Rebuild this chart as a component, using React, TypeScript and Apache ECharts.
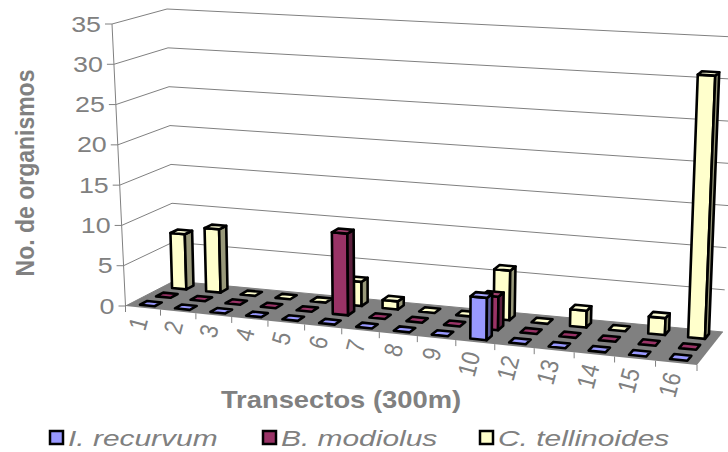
import React, { useEffect, useRef } from "react";
import * as echarts from "echarts";

// Transects along the shore (transect 11 has no sample)
const categories = ["1", "2", "3", "4", "5", "6", "7", "8", "9", "10", "12", "13", "14", "15", "16"];
const seriesNames = ["I. recurvum", "B. modiolus", "C. tellinoides"];
const recurvum = [0, 0, 0, 0, 0, 0, 0, 0, 0, 5, 0, 0, 0, 0, 0];
const modiolus = [0, 0, 0, 0, 0, 10, 0, 0, 0, 4, 0, 0, 0, 0, 0];
const tellinoides = [7, 8, 0, 0, 0, 3, 1, 0, 0, 6, 0, 2, 0, 2, 31];
const yTicks = [0, 5, 10, 15, 20, 25, 30, 35];

const seriesValues = [recurvum, modiolus, tellinoides];
const frontColors = ["#9999FF", "#993366", "#FFFFCC"];
const sideColors = ["#5C5C99", "#5C1F3D", "#99997A"];
const topColors = ["#A6A6FF", "#A3416F", "#FFFFD6"];

const TEXT = "#808080";
const GRID = "#808080";
const FONT = '"Liberation Sans", Arial, Helvetica, sans-serif';

type Pt = [number, number];

// Screen corners of the 3D plot box: floor (value 0) and roof (value max)
const FLOOR_FL: Pt = [125.5, 306];
const FLOOR_FR: Pt = [697, 365];
const FLOOR_BL: Pt = [174, 281];
const FLOOR_BR: Pt = [723, 332];
const TOP_FL: Pt = [112, 24];
const TOP_FR: Pt = [709, 59];
const TOP_BL: Pt = [167, 9];
const TOP_BR: Pt = [735, 37];
// Perspective foreshortening along the category direction
const WARP = -0.087;

// Depth rows (front to back) and box proportions
const ROW_DEPTH = [1 / 6, 1 / 2, 5 / 6];
const BAR_DEPTH = 0.15;
const BAR_WIDTH = 0.42;

const lerp = (a: Pt, b: Pt, t: number): Pt => [a[0] + (b[0] - a[0]) * t, a[1] + (b[1] - a[1]) * t];

// u: along categories (0..1), v: depth (0 front .. 1 back), h: height (0..1)
function project(u: number, v: number, h: number): Pt {
  const w = (u * (1 + WARP)) / (1 + WARP * u);
  const f = lerp(lerp(FLOOR_FL, FLOOR_FR, w), lerp(FLOOR_BL, FLOOR_BR, w), v);
  const t = lerp(lerp(TOP_FL, TOP_FR, w), lerp(TOP_BL, TOP_BR, w), v);
  return lerp(f, t, h);
}

// Convert a data point to normalised plot coordinates using the hidden cartesian axes
function norm(params: any, api: any, x: number, y: number) {
  const cs = params.coordSys;
  const p = api.coord([x, y]);
  return {
    u: (p[0] - cs.x) / cs.width,
    h: (cs.y + cs.height - p[1]) / cs.height,
    band: api.size([1, 0])[0] / cs.width,
  };
}

function barRenderer(row: number) {
  return (params: any, api: any) => {
    const { u, h, band } = norm(params, api, api.value(0), api.value(1));
    const du = (band * BAR_WIDTH) / 2;
    const vc = ROW_DEPTH[row];
    const dv = BAR_DEPTH / 2;
    const u0 = u - du, u1 = u + du, v0 = vc - dv, v1 = vc + dv;
    const a = project(u0, v0, 0);
    const b = project(u1, v0, 0);
    const c = project(u1, v0, h);
    const d = project(u0, v0, h);
    const e = project(u1, v1, 0);
    const f = project(u1, v1, h);
    const g = project(u0, v1, h);
    const edge = { stroke: "#000000", lineWidth: 2.6, lineJoin: "round" };
    const children: any[] = [];
    if (h > 0) {
      children.push({ type: "polygon", shape: { points: [a, b, c, d] }, style: { fill: frontColors[row], ...edge } });
      children.push({ type: "polygon", shape: { points: [b, e, f, c] }, style: { fill: sideColors[row], ...edge } });
      children.push({ type: "polygon", shape: { points: [d, c, f, g] }, style: { fill: topColors[row], ...edge } });
    } else {
      children.push({ type: "polygon", shape: { points: [d, c, f, g] }, style: { fill: frontColors[row], ...edge } });
    }
    return { type: "group", children };
  };
}

function wallRenderer(params: any, api: any) {
  const value = api.value(1);
  const { h } = norm(params, api, 0, value);
  const p0 = project(0, 0, h);
  const p1 = project(0, 1, h);
  const p2 = project(1, 1, h);
  return {
    type: "group",
    children: [
      { type: "polyline", shape: { points: [p0, p1, p2] }, style: { stroke: GRID, lineWidth: 1, fill: "none" } },
      { type: "line", shape: { x1: p0[0] - 7, y1: p0[1], x2: p0[0], y2: p0[1] }, style: { stroke: GRID, lineWidth: 1 } },
      {
        type: "text",
        x: p0[0] - 11,
        y: p0[1],
        scaleX: 1.22,
        style: { text: String(value), fill: TEXT, fontSize: 22, fontFamily: FONT, align: "right", verticalAlign: "middle" },
      },
    ],
  };
}

function floorRenderer(params: any, api: any) {
  const top = norm(params, api, 0, yTicks[yTicks.length - 1]).h;
  const a = project(0, 0, 0);
  const b = project(1, 0, 0);
  const c = project(1, 1, 0);
  const d = project(0, 1, 0);
  const t = project(0, 0, top);
  return {
    type: "group",
    children: [
      { type: "polygon", shape: { points: [a, b, c, d] }, style: { fill: "#808080", stroke: "none" } },
      { type: "line", shape: { x1: a[0], y1: a[1], x2: t[0], y2: t[1] }, style: { stroke: GRID, lineWidth: 1 } },
    ],
  };
}

function categoryRenderer(params: any, api: any) {
  const i = api.value(0);
  const { u, band } = norm(params, api, i, 0);
  const left = project(u - band / 2, 0, 0);
  const mid = project(u, 0, 0);
  const children: any[] = [
    { type: "line", shape: { x1: left[0], y1: left[1], x2: left[0], y2: left[1] + 6 }, style: { stroke: GRID, lineWidth: 1 } },
  ];
  if (i === categories.length - 1) {
    const right = project(u + band / 2, 0, 0);
    children.push({ type: "line", shape: { x1: right[0], y1: right[1], x2: right[0], y2: right[1] + 6 }, style: { stroke: GRID, lineWidth: 1 } });
  }
  children.push({
    type: "text",
    x: mid[0] - 3,
    y: mid[1] + 10,
    rotation: (75 * Math.PI) / 180,
    scaleY: 1.15,
    style: { text: categories[i], fill: TEXT, fontSize: 22, fontFamily: FONT, align: "right", verticalAlign: "middle" },
  });
  return { type: "group", children };
}

const legendX = [50, 263, 480];

export default function App() {
  const ref = useRef<HTMLDivElement>(null);

  useEffect(() => {
    if (!ref.current) return;
    const chart = echarts.init(ref.current, undefined, { renderer: "svg" });

    const barSeries = [2, 1, 0].map((row) => ({
      type: "custom",
      name: seriesNames[row],
      coordinateSystem: "cartesian2d",
      clip: false,
      silent: true,
      z: 5 + (2 - row),
      data: seriesValues[row].map((v, i) => [i, v]),
      renderItem: barRenderer(row),
    }));

    const legendGraphics: any[] = [];
    seriesNames.forEach((name, k) => {
      legendGraphics.push({
        type: "rect",
        x: legendX[k],
        y: 431,
        shape: { width: 13, height: 13 },
        style: { fill: frontColors[k], stroke: "#000000", lineWidth: 2.5 },
      });
      legendGraphics.push({
        type: "text",
        x: legendX[k] + 18,
        y: 438,
        scaleX: 1.36,
        style: { text: name, fill: TEXT, fontSize: 22, fontStyle: "italic", fontFamily: FONT, align: "left", verticalAlign: "middle" },
      });
    });

    chart.setOption({
      animation: false,
      backgroundColor: "#ffffff",
      grid: { left: 0, right: 0, top: 0, bottom: 0 },
      xAxis: { type: "category", data: categories, show: false, boundaryGap: true },
      yAxis: { type: "value", min: 0, max: 35, interval: 5, show: false },
      series: [
        {
          type: "custom",
          name: "walls",
          coordinateSystem: "cartesian2d",
          clip: false,
          silent: true,
          z: 1,
          data: yTicks.map((t) => [0, t]),
          renderItem: wallRenderer,
        },
        {
          type: "custom",
          name: "floor",
          coordinateSystem: "cartesian2d",
          clip: false,
          silent: true,
          z: 2,
          data: [[0, 0]],
          renderItem: floorRenderer,
        },
        {
          type: "custom",
          name: "categories",
          coordinateSystem: "cartesian2d",
          clip: false,
          silent: true,
          z: 3,
          data: categories.map((_, i) => [i, 0]),
          renderItem: categoryRenderer,
        },
        ...barSeries,
      ],
      graphic: [
        {
          type: "text",
          x: 25,
          y: 173,
          rotation: Math.PI / 2,
          scaleY: 1.1,
          style: { text: "No. de organismos", fill: TEXT, fontSize: 23, fontWeight: "bold", fontFamily: FONT, align: "center", verticalAlign: "middle" },
        },
        {
          type: "text",
          x: 341,
          y: 400,
          scaleX: 1.19,
          style: { text: "Transectos (300m)", fill: TEXT, fontSize: 23, fontWeight: "bold", fontFamily: FONT, align: "center", verticalAlign: "middle" },
        },
        ...legendGraphics,
      ],
    });

    return () => chart.dispose();
  }, []);

  return <div ref={ref} style={{ position: "absolute", left: 0, top: 0, width: 728, height: 452 }} />;
}
